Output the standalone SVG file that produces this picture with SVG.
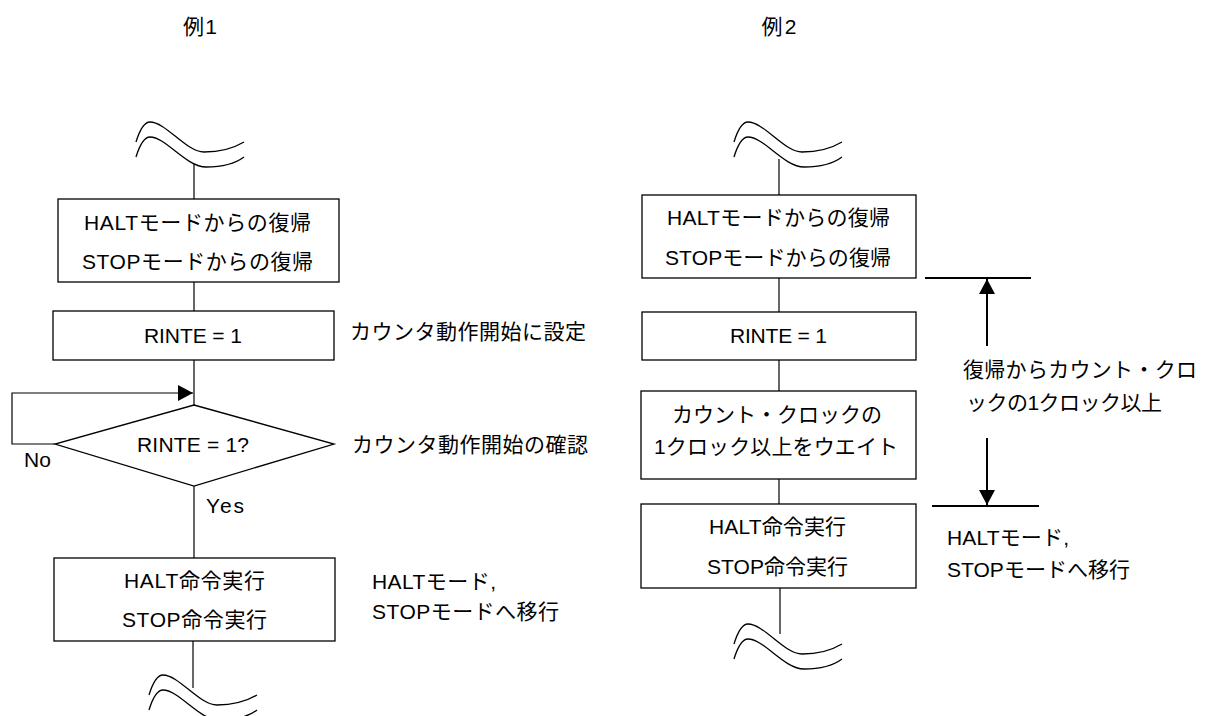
<svg xmlns="http://www.w3.org/2000/svg" width="1215" height="716" viewBox="0 0 1215 716">
<style>
text{font-family:"Liberation Sans","Noto Sans CJK JP",sans-serif;font-size:21px;fill:#000}
.c{text-anchor:middle}
.box{fill:#fff;stroke:#000;stroke-width:1.3}
.ln{fill:none;stroke:#000;stroke-width:1.2}
.thick{fill:none;stroke:#000;stroke-width:2}
.wave{fill:none;stroke:#000;stroke-width:1.3}
</style>
<defs>
<path id="wave" d="M-12,20 C-8,7 -4,0 2,0 C18,0 38,30 56,30 C74,30 86,26 96,20 M-12,35 C-8,22 -4,15 2,15 C18,15 38,45 58,45 C76,45 88,41 96,35"/>
<marker id="ah" markerWidth="16" markerHeight="16" refX="15" refY="8" orient="auto" markerUnits="userSpaceOnUse" viewBox="0 0 16 16">
<path d="M0,0 L15,8 L0,16 Z" fill="#000"/>
</marker>
</defs>

<text id="title1" x="200" y="34" class="c" textLength="34" lengthAdjust="spacing">例1</text>
<text id="title2" x="779" y="34" class="c" textLength="35" lengthAdjust="spacing">例2</text>

<g id="connectors">
<use href="#wave" class="wave" x="148" y="122"/>
<use href="#wave" class="wave" x="161" y="675"/>
<use href="#wave" class="wave" x="746" y="122"/>
<use href="#wave" class="wave" x="746" y="624"/>
<line class="ln" x1="194" y1="164" x2="194" y2="199"/>
<line class="ln" x1="194" y1="282" x2="194" y2="311"/>
<line class="ln" x1="194" y1="360" x2="194" y2="405"/>
<polyline class="ln" points="55,444 12,444 12,393 193,393" marker-end="url(#ah)"/>
<line class="ln" x1="194" y1="486" x2="194" y2="558"/>
<line class="ln" x1="193" y1="641" x2="193" y2="688"/>
<line class="ln" x1="779" y1="159" x2="779" y2="195"/>
<line class="ln" x1="779" y1="278" x2="779" y2="312"/>
<line class="ln" x1="779" y1="360" x2="779" y2="391"/>
<line class="ln" x1="779" y1="479" x2="779" y2="504"/>
<line class="ln" x1="780" y1="588" x2="780" y2="634"/>
<line class="thick" x1="925" y1="278" x2="1031" y2="278"/>
<line class="thick" x1="932" y1="506" x2="1039" y2="506"/>
<line class="thick" x1="987" y1="346" x2="987" y2="279" marker-end="url(#ah)"/>
<line class="thick" x1="987" y1="438" x2="987" y2="505" marker-end="url(#ah)"/>
</g>

<g id="l-box1">
<rect class="box" x="58" y="199" width="281" height="83"/>
<text x="197.5" y="230" class="c" textLength="227" lengthAdjust="spacing">HALTモードからの復帰</text>
<text x="197.5" y="269" class="c" textLength="231" lengthAdjust="spacing">STOPモードからの復帰</text>
</g>
<g id="l-box2">
<rect class="box" x="53" y="311" width="281" height="49"/>
<text x="193" y="343" class="c" textLength="98" lengthAdjust="spacing">RINTE = 1</text>
</g>
<text id="l-note1" x="350" y="339" textLength="236" lengthAdjust="spacing">カウンタ動作開始に設定</text>
<g id="l-diamond">
<polygon class="box" points="194,405 334,444 194,486 55,444"/>
<text x="193" y="452" class="c" textLength="112" lengthAdjust="spacing">RINTE = 1?</text>
</g>
<text id="l-no" x="24" y="467" textLength="27" lengthAdjust="spacing">No</text>
<text id="l-yes" x="206" y="513" textLength="38" lengthAdjust="spacing">Yes</text>
<text id="l-note2" x="352" y="452" textLength="236" lengthAdjust="spacing">カウンタ動作開始の確認</text>
<g id="l-box3">
<rect class="box" x="54" y="558" width="281" height="83"/>
<text x="194.5" y="588" class="c" textLength="141" lengthAdjust="spacing">HALT命令実行</text>
<text x="194.5" y="627" class="c" textLength="145" lengthAdjust="spacing">STOP命令実行</text>
</g>
<g id="l-note3">
<text x="372" y="589" textLength="124" lengthAdjust="spacing">HALTモード,</text>
<text x="372" y="619" textLength="187" lengthAdjust="spacing">STOPモードへ移行</text>
</g>

<g id="r-box1">
<rect class="box" x="642" y="195" width="274" height="83"/>
<text x="778.5" y="225" class="c" textLength="223" lengthAdjust="spacing">HALTモードからの復帰</text>
<text x="778" y="265" class="c" textLength="226" lengthAdjust="spacing">STOPモードからの復帰</text>
</g>
<g id="r-box2">
<rect class="box" x="642" y="312" width="274" height="48"/>
<text x="778.5" y="343" class="c" textLength="97" lengthAdjust="spacing">RINTE = 1</text>
</g>
<g id="r-box3">
<rect class="box" x="641" y="391" width="275" height="88"/>
<text x="777" y="422" class="c" textLength="210" lengthAdjust="spacing">カウント・クロックの</text>
<text x="776" y="454" class="c" textLength="244" lengthAdjust="spacing">1クロック以上をウエイト</text>
</g>
<g id="r-box4">
<rect class="box" x="641" y="504" width="275" height="84"/>
<text x="777.5" y="534" class="c" textLength="137" lengthAdjust="spacing">HALT命令実行</text>
<text x="777.5" y="574" class="c" textLength="141" lengthAdjust="spacing">STOP命令実行</text>
</g>
<g id="r-note1">
<text x="963" y="377" textLength="234" lengthAdjust="spacing">復帰からカウント・クロ</text>
<text x="966" y="410" textLength="196" lengthAdjust="spacing">ックの1クロック以上</text>
</g>
<g id="r-note2">
<text x="947" y="545" textLength="122" lengthAdjust="spacing">HALTモード,</text>
<text x="947" y="577" textLength="183" lengthAdjust="spacing">STOPモードへ移行</text>
</g>
</svg>
